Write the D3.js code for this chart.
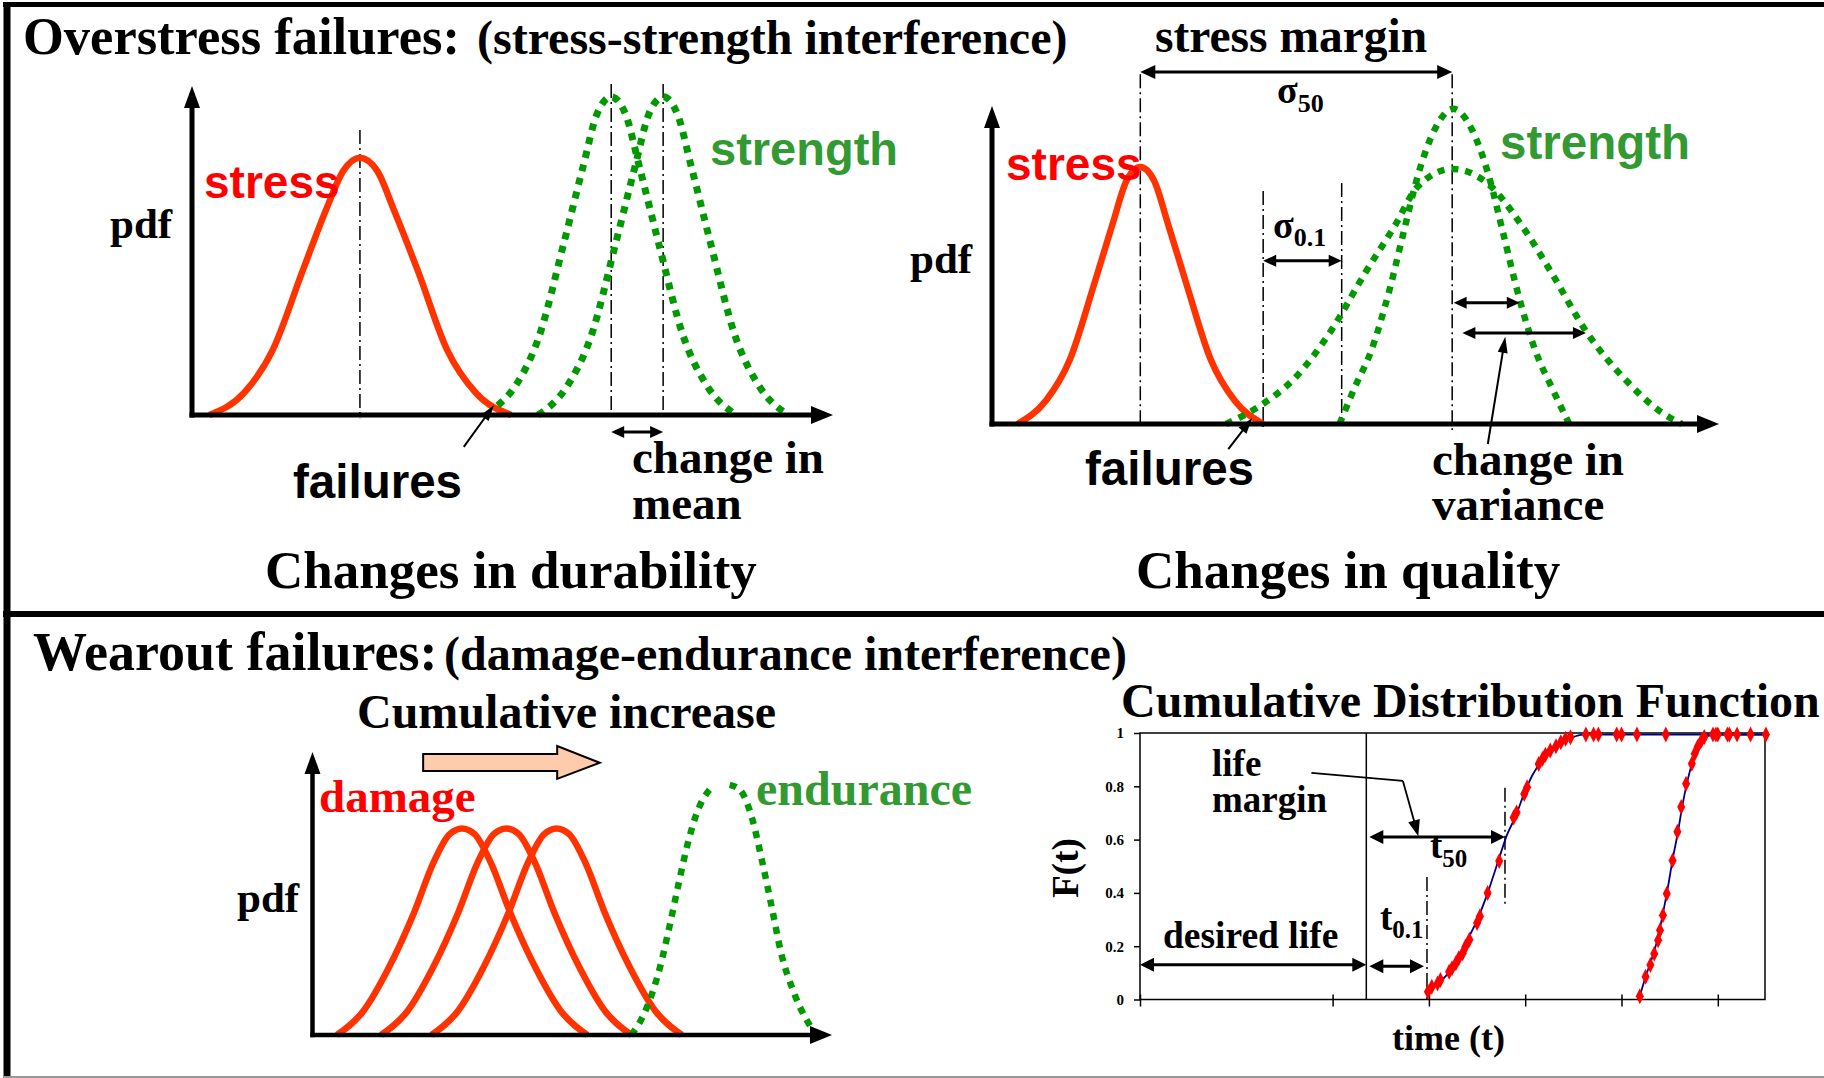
<!DOCTYPE html>
<html>
<head>
<meta charset="utf-8">
<script src="https://cdn.jsdelivr.net/npm/d3@7"></script>
<style>
  body { margin: 0; background: #fff; }
</style>
</head>
<body>
<div id="chart"></div>
<script>
var W = 1824, H = 1078;
var SERIF = "'Liberation Serif','Times New Roman',serif",
    SANS = "'Liberation Sans',Arial,sans-serif";
var RED = "#ff3300", GREEN = "#009900", GREEN_TXT = "#339933";

// ---------- data ----------
// panel 1: changes in durability  (x: 0-100 along axis, pdf: 0-100)
var stress1 = [[2.7,0],[8.1,6.7],[12.6,19.8],[17.2,43.5],[20.9,62.3],[23.6,74.2],[26.2,78.2],[28.9,74.2],[31.5,62.3],[35.3,43.5],[39.8,19.8],[44.3,6.7],[49.8,0]];
var strengthOld1 = [[47.7,2.9],[50.4,8.7],[54.2,24.2],[58.0,52.2],[61.0,75.4],[63.2,91.6],[65.4,96.7],[67.6,91.6],[69.8,75.4],[72.8,52.2],[76.6,24.2],[80.4,8.7],[84.9,0]];
var strengthNew1 = [[54.0,0],[58.5,8.7],[62.3,24.2],[66.1,52.2],[69.1,75.4],[71.3,91.6],[73.5,96.7],[75.7,91.6],[77.9,75.4],[80.9,52.2],[84.7,24.2],[88.5,8.7],[93.0,0]];
var means1 = [26.2, 65.4, 73.5];

// panel 2: changes in quality
var stress2 = [[3.5,0],[7.4,7.3],[10.7,20.2],[14.0,43.6],[16.6,63.0],[18.5,76.5],[20.4,80.8],[22.3,76.5],[24.2,63.0],[26.8,43.6],[30.1,20.2],[33.4,7.3],[37.3,0]];
var strengthWide2 = [[32.2,0],[37.0,5.9],[41.8,14.8],[46.6,29.2],[51.4,47.8],[55.4,62.3],[58.5,74.5],[63.3,80.2],[68.1,75.8],[72.9,62.3],[76.9,47.8],[81.7,29.2],[87.3,13.5],[92.0,3.8],[94.9,0]];
var strengthNarrow2 = [[47.8,0],[49.8,11.0],[52.2,23.3],[54.6,41.5],[56.6,60.1],[58.6,78.3],[61.0,93.1],[63.4,99.1],[65.9,93.1],[68.3,78.3],[70.3,60.1],[72.3,41.5],[74.7,23.3],[77.1,11.0],[79.4,0]];
var means2 = [20.4, 63.3];
var q01_2 = [37.3, 48.1];

// panel 3: wearout, damage vs endurance
var damageHeights = [0,8.5,23.5,43.5,61,71,73,71,61,43.5,23.5,8.5,0];
var damageA = [4.7,9.8,14.6,19.6,23.3,26.4,28.8,31.2,34.3,38.0,43.0,47.8,52.9];
var damageB = [13.2,18.3,23.1,28.1,31.8,34.9,37.3,39.7,42.8,46.5,51.5,56.3,61.4];
var damageC = [22.9,28.0,32.8,37.8,41.5,44.6,47.0,49.4,52.5,56.2,61.2,66.0,71.1];
var enduranceLeft = [[61.4,0],[64.4,9.9],[66.9,24.0],[68.7,38.2],[70.5,53.7],[72.4,68.9],[74.2,79.5],[76.1,85.9],[77.4,88.2]];
var enduranceRight = [[80.3,88.4],[82.3,86.6],[84.7,76.0],[86.5,61.8],[88.4,45.2],[90.2,29.0],[92.7,14.8],[96.9,0]];

// panel 4: cumulative distribution function
var cdfYTicks = [0, 0.2, 0.4, 0.6, 0.8, 1];
var cdfXTicks = [0, 2, 3, 4, 5, 6];
var desiredLife = 2.35, t01 = 2.98, t50 = 3.79;
var cdf1Fit = [[2.99,0.029],[3.10,0.06],[3.24,0.117],[3.39,0.217],[3.51,0.305],[3.61,0.40],[3.72,0.52],[3.81,0.617],[3.90,0.687],[4.01,0.793],[4.15,0.887],[4.33,0.956],[4.47,0.981],[4.60,0.994],[6.49,0.994]];
var cdf2Fit = [[5.19,0.012],[5.25,0.085],[5.31,0.148],[5.38,0.235],[5.43,0.323],[5.48,0.417],[5.53,0.524],[5.59,0.636],[5.63,0.724],[5.68,0.812],[5.75,0.906],[5.82,0.962],[5.91,0.99],[6.0,0.994],[6.49,0.994]];
var cdf1Samples = [[2.99,0.029],[3.03,0.048],[3.09,0.06],[3.12,0.073],[3.21,0.104],[3.24,0.117],[3.28,0.136],[3.31,0.155],[3.35,0.174],[3.38,0.199],[3.42,0.224],[3.50,0.287],[3.53,0.312],[3.61,0.40],[3.73,0.52],[3.88,0.683],[3.91,0.702],[3.99,0.771],[4.02,0.796],[4.14,0.884],[4.18,0.903],[4.21,0.918],[4.26,0.934],[4.32,0.95],[4.37,0.965],[4.42,0.978],[4.47,0.984],[4.63,0.994],[4.71,0.994],[4.76,0.994],[4.95,0.994],[5.00,0.994],[5.16,0.994],[5.46,0.994]];
var cdf2Samples = [[5.19,0.012],[5.25,0.085],[5.30,0.129],[5.34,0.172],[5.38,0.222],[5.40,0.26],[5.43,0.316],[5.47,0.397],[5.53,0.522],[5.58,0.629],[5.62,0.722],[5.67,0.81],[5.73,0.885],[5.76,0.922],[5.79,0.947],[5.83,0.972],[5.86,0.985],[5.95,0.994],[5.98,0.994],[6.00,0.994],[6.10,0.994],[6.12,0.994],[6.20,0.994],[6.34,0.994],[6.50,0.994]];

// ---------- helpers ----------
var svg = d3.select("#chart").append("svg")
    .attr("width", W).attr("height", H)
    .style("background", "#fff");

function txt(g, s, x, y, o) {
  var t = g.append("text")
      .attr("x", x).attr("y", y)
      .attr("font-family", o.sans ? SANS : SERIF)
      .attr("font-weight", "bold")
      .attr("font-size", o.size)
      .attr("fill", o.color || "#000")
      .attr("text-anchor", o.anchor || "start")
      .text(s);
  return t;
}

function subTxt(g, main, sub, x, y, size, subSize, dy) {
  var t = g.append("text").attr("x", x).attr("y", y)
      .attr("font-family", SERIF).attr("font-weight", "bold")
      .attr("font-size", size);
  t.append("tspan").text(main);
  t.append("tspan").attr("font-size", subSize).attr("dy", dy).text(sub);
}

// straight arrow between two pixel points, with filled heads
function arrow(g, a, b, o) {
  var dx = b[0] - a[0], dy = b[1] - a[1], L = Math.hypot(dx, dy),
      ux = dx / L, uy = dy / L;
  var p1 = o.start ? [a[0] + ux * o.hl * 0.7, a[1] + uy * o.hl * 0.7] : a;
  var p2 = o.end ? [b[0] - ux * o.hl * 0.7, b[1] - uy * o.hl * 0.7] : b;
  g.append("line")
      .attr("x1", p1[0]).attr("y1", p1[1]).attr("x2", p2[0]).attr("y2", p2[1])
      .attr("stroke", "#000").attr("stroke-width", o.w);
  function head(tip, sx, sy) {
    var bx = tip[0] - sx * o.hl, by = tip[1] - sy * o.hl;
    return [[tip[0], tip[1]], [bx - sy * o.hw, by + sx * o.hw], [bx + sy * o.hw, by - sx * o.hw]];
  }
  if (o.end) g.append("polygon").attr("points", head(b, ux, uy).join(" ")).attr("fill", "#000");
  if (o.start) g.append("polygon").attr("points", head(a, -ux, -uy).join(" ")).attr("fill", "#000");
}

function dashDot(g, x, y1, y2) {
  g.append("line")
      .attr("x1", x).attr("x2", x).attr("y1", y1).attr("y2", y2)
      .attr("stroke", "#000").attr("stroke-width", 1.5)
      .attr("stroke-dasharray", "14,4,2,4");
}

function curve(g, data, x, y, color, dotted, width) {
  var line = d3.line()
      .x(function(d) { return x(d[0]); })
      .y(function(d) { return y(d[1]); })
      .curve(d3.curveMonotoneX);
  var p = g.append("path")
      .datum(data)
      .attr("d", line)
      .attr("fill", "none")
      .attr("stroke", color)
      .attr("stroke-width", width);
  if (dotted) p.attr("stroke-dasharray", "7,7");
  return p;
}

function axes(g, x, y, w) {
  arrow(g, [x(0), y(0) + w / 2], [x(0), y(100)], {w: w, hl: 22, hw: 8, end: true});
  arrow(g, [x(0) - w / 2, y(0)], [x(100), y(0)], {w: w, hl: 22, hw: 9, end: true});
}

// ---------- frame ----------
svg.append("line").attr("x1", 3).attr("x2", W).attr("y1", 4.5).attr("y2", 4.5)
    .attr("stroke", "#000").attr("stroke-width", 5);
svg.append("line").attr("x1", 7).attr("x2", 7).attr("y1", 2).attr("y2", H)
    .attr("stroke", "#000").attr("stroke-width", 7);
svg.append("line").attr("x1", 3).attr("x2", W).attr("y1", 614).attr("y2", 614)
    .attr("stroke", "#000").attr("stroke-width", 6);
svg.append("line").attr("x1", 3).attr("x2", W).attr("y1", 1077).attr("y2", 1077)
    .attr("stroke", "#999").attr("stroke-width", 2);

// ---------- titles ----------
var titleG = svg.append("g");
txt(titleG, "Overstress failures:", 23, 54, {size: 52.5});
txt(titleG, "(stress-strength interference)", 477, 54, {size: 48});

// ---------- panel 1 ----------
var p1 = svg.append("g");
var x1 = d3.scaleLinear().domain([0, 100]).range([192, 833]),
    y1 = d3.scaleLinear().domain([0, 100]).range([415, 86]);

dashDot(p1, x1(means1[0]), y1(86.6), y1(-1));
dashDot(p1, x1(means1[1]), y1(100.6), y1(-1));
dashDot(p1, x1(means1[2]), y1(100.6), y1(-1));
curve(p1, stress1, x1, y1, RED, false, 6.5);
curve(p1, strengthOld1, x1, y1, GREEN, true, 7);
curve(p1, strengthNew1, x1, y1, GREEN, true, 7);
axes(p1, x1, y1, 5);
arrow(p1, [x1(means1[1]), y1(-5.2)], [x1(means1[2]), y1(-5.2)], {w: 3, hl: 13, hw: 6, start: true, end: true});
arrow(p1, [x1(42.4), y1(-9.7)], [x1(47.1), y1(3.0)], {w: 2, hl: 16, hw: 5, end: true});

txt(p1, "pdf", 110, 238, {size: 43});
txt(p1, "stress", 204, 198, {size: 46, sans: true, color: "#ff0000"});
txt(p1, "strength", 710, 165, {size: 47, sans: true, color: GREEN_TXT});
txt(p1, "failures", 293, 498, {size: 47.5, sans: true});
txt(p1, "change in", 632, 473, {size: 47});
txt(p1, "mean", 632, 519, {size: 47});
txt(p1, "Changes in durability", 265, 588, {size: 53});

// ---------- panel 2 ----------
var p2 = svg.append("g");
var x2 = d3.scaleLinear().domain([0, 100]).range([992, 1719]),
    y2 = d3.scaleLinear().domain([0, 100]).range([424, 106]);

dashDot(p2, x2(means2[0]), y2(110), y2(-1.3));
dashDot(p2, x2(means2[1]), y2(110), y2(-1.9));
dashDot(p2, x2(q01_2[0]), y2(73.3), y2(-1.9));
dashDot(p2, x2(q01_2[1]), y2(75.8), y2(1.3));
curve(p2, stress2, x2, y2, RED, false, 6.5);
curve(p2, strengthWide2, x2, y2, GREEN, true, 6.5);
curve(p2, strengthNarrow2, x2, y2, GREEN, true, 6.5);
axes(p2, x2, y2, 5);
arrow(p2, [x2(means2[0]), y2(110.7)], [x2(means2[1]), y2(110.7)], {w: 3, hl: 15, hw: 7, start: true, end: true});
arrow(p2, [x2(q01_2[0]), y2(51.3)], [x2(q01_2[1]), y2(51.3)], {w: 3, hl: 13, hw: 6, start: true, end: true});
arrow(p2, [x2(63.5), y2(38.1)], [x2(72.6), y2(38.1)], {w: 3, hl: 13, hw: 6, start: true, end: true});
arrow(p2, [x2(64.7), y2(28.6)], [x2(81.7), y2(28.6)], {w: 3, hl: 13, hw: 6, start: true, end: true});
arrow(p2, [x2(68.2), y2(-6.3)], [x2(70.6), y2(27.4)], {w: 2, hl: 16, hw: 5, end: true});
arrow(p2, [x2(32.5), y2(-7.9)], [x2(35.8), y2(1.9)], {w: 2, hl: 16, hw: 5, end: true});

txt(p2, "stress margin", 1155, 52, {size: 47.5});
subTxt(p2, "\u03c3", "50", 1277, 103, 38, 26, 9);
subTxt(p2, "\u03c3", "0.1", 1273, 238, 38, 26, 8);
txt(p2, "pdf", 910, 273, {size: 43});
txt(p2, "stress", 1006, 180, {size: 46, sans: true, color: "#ff0000"});
txt(p2, "strength", 1500, 159, {size: 47.5, sans: true, color: GREEN_TXT});
txt(p2, "failures", 1085, 485, {size: 47.5, sans: true});
txt(p2, "change in", 1432, 475, {size: 47});
txt(p2, "variance", 1432, 520, {size: 47});
txt(p2, "Changes in quality", 1136, 588, {size: 53});

// ---------- panel 3 ----------
var p3 = svg.append("g");
var x3 = d3.scaleLinear().domain([0, 100]).range([312.5, 832]),
    y3 = d3.scaleLinear().domain([0, 100]).range([1035, 752]);

txt(p3, "Wearout failures:", 33, 670, {size: 54});
txt(p3, "(damage-endurance interference)", 444, 670, {size: 48});
txt(p3, "Cumulative increase", 357, 728, {size: 48});

var blk = [[21.3, 99.3], [47.1, 99.3], [47.1, 102.1], [55.3, 96.2], [47.1, 90.5], [47.1, 93.3], [21.3, 93.3]];
p3.append("polygon")
    .attr("points", blk.map(function(d) { return [x3(d[0]), y3(d[1])]; }).join(" "))
    .attr("fill", "#ffcbad").attr("stroke", "#000").attr("stroke-width", 2);

[damageA, damageB, damageC].forEach(function(xs) {
  var pts = xs.map(function(v, i) { return [v, damageHeights[i]]; });
  curve(p3, pts, x3, y3, RED, false, 6.5);
});
curve(p3, enduranceLeft, x3, y3, GREEN, true, 6.5);
curve(p3, enduranceRight, x3, y3, GREEN, true, 6.5);
axes(p3, x3, y3, 4.5);

txt(p3, "damage", 319, 812, {size: 47, color: "#ff0000"});
txt(p3, "endurance", 756, 805, {size: 48, color: GREEN_TXT});
txt(p3, "pdf", 237, 912, {size: 43});

// ---------- panel 4 ----------
var p4 = svg.append("g");
var xc = d3.scaleLinear().domain([0, 6.49]).range([1140, 1765]),
    yc = d3.scaleLinear().domain([0, 1]).range([999.5, 733]);

txt(p4, "Cumulative Distribution Function", 1121, 717, {size: 48});

p4.append("rect")
    .attr("x", xc(0)).attr("y", yc(1))
    .attr("width", xc(6.49) - xc(0)).attr("height", yc(0) - yc(1))
    .attr("fill", "none").attr("stroke", "#000").attr("stroke-width", 1.5);

var yAx = p4.append("g")
    .attr("transform", "translate(" + xc(0) + ",0)")
    .call(d3.axisLeft(yc).tickValues(cdfYTicks).tickSize(6).tickPadding(10)
      .tickFormat(function(d) { return d === 0 ? "0" : d === 1 ? "1" : d3.format(".1f")(d); }));
yAx.select(".domain").remove();
yAx.selectAll("text").attr("font-family", SERIF).attr("font-weight", "bold").attr("font-size", 15);
yAx.selectAll("line").attr("stroke-width", 1.5);

var xAx = p4.append("g")
    .attr("transform", "translate(0," + yc(0) + ")")
    .call(d3.axisBottom(xc).tickValues(cdfXTicks).tickSize(7).tickFormat(""));
xAx.select(".domain").remove();
xAx.selectAll("line").attr("stroke-width", 1.5).attr("y1", -5);

p4.append("line")
    .attr("x1", xc(desiredLife)).attr("x2", xc(desiredLife))
    .attr("y1", yc(1)).attr("y2", yc(0))
    .attr("stroke", "#000").attr("stroke-width", 1.5);
dashDot(p4, xc(t01), yc(0.46), yc(0));
dashDot(p4, xc(t50), yc(0.795), yc(0.355));

var cdfLine = d3.line()
    .x(function(d) { return xc(d[0]); })
    .y(function(d) { return yc(d[1]); })
    .curve(d3.curveMonotoneX);
[cdf1Fit, cdf2Fit].forEach(function(data) {
  p4.append("path").datum(data).attr("d", cdfLine)
      .attr("fill", "none").attr("stroke", "#000080").attr("stroke-width", 1.8);
});
p4.selectAll(".sample")
    .data(cdf1Samples.concat(cdf2Samples))
    .enter().append("path")
    .attr("class", "sample")
    .attr("d", "M0,-8L4,0L0,8L-4,0Z")
    .attr("transform", function(d) { return "translate(" + xc(d[0]) + "," + yc(d[1]) + ")"; })
    .attr("fill", "#ff0000");

arrow(p4, [xc(0), yc(0.13)], [xc(desiredLife), yc(0.13)], {w: 3, hl: 14, hw: 7, start: true, end: true});
arrow(p4, [xc(desiredLife) + 3, yc(0.125)], [xc(t01) - 3, yc(0.125)], {w: 3, hl: 14, hw: 7, start: true, end: true});
arrow(p4, [xc(desiredLife) + 3, yc(0.61)], [xc(t50), yc(0.61)], {w: 3, hl: 14, hw: 7, start: true, end: true});
p4.append("polyline")
    .attr("points", [[xc(1.78), yc(0.85)], [xc(2.73), yc(0.82)]].join(" "))
    .attr("fill", "none").attr("stroke", "#000").attr("stroke-width", 1.8);
arrow(p4, [xc(2.73), yc(0.82)], [xc(2.89), yc(0.613)], {w: 1.8, hl: 16, hw: 6, end: true});

txt(p4, "life", 1212, 776, {size: 37});
txt(p4, "margin", 1212, 812, {size: 37});
subTxt(p4, "t", "50", 1430, 858, 37, 25, 9);
subTxt(p4, "t", "0.1", 1380, 930, 37, 25, 8);
txt(p4, "desired life", 1163, 948, {size: 37.5});
txt(p4, "time (t)", 1392, 1050, {size: 36});
txt(p4, "F(t)", 0, 0, {size: 37, anchor: "middle"})
    .attr("transform", "translate(1078,868) rotate(-90)");
</script>
</body>
</html>
